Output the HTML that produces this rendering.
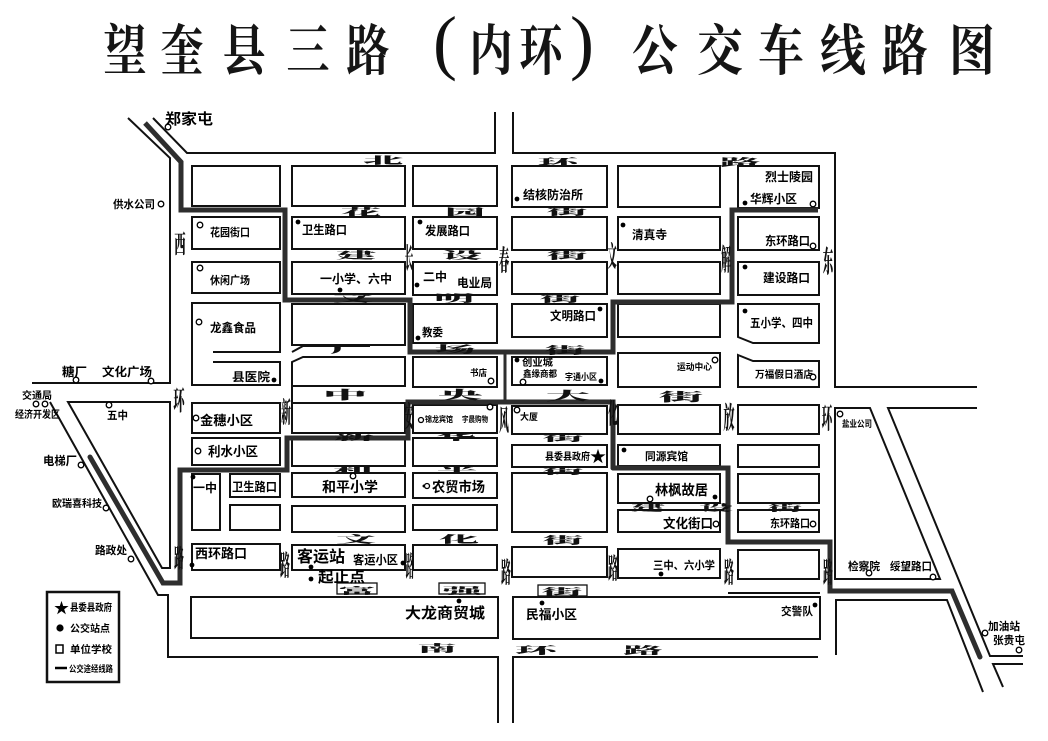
<!DOCTYPE html>
<html><head><meta charset="utf-8">
<style>
html,body{margin:0;padding:0;background:#fff;}
svg{display:block;}
.l{font-family:"Liberation Sans","Noto Sans CJK SC",sans-serif;font-weight:bold;fill:#000;}
.c{font-family:"Noto Serif CJK SC","Noto Sans CJK SC",serif;font-weight:900;fill:#111;}
.t{font-family:"Noto Serif CJK SC","Noto Sans CJK SC",serif;font-weight:700;fill:#151515;}
.p{font-family:"Liberation Serif",serif;fill:#111;}
</style></head><body>
<svg width="1048" height="741" viewBox="0 0 1048 741" xmlns="http://www.w3.org/2000/svg">
<rect x="0" y="0" width="1048" height="741" fill="#fff"/>

<!-- Title -->
<g class="t" font-size="54" text-anchor="middle">
<text transform="translate(125,70) scale(0.8,1.02)">望</text>
<text transform="translate(182,70) scale(0.8,1.02)">奎</text>
<text transform="translate(244,70) scale(0.8,1.02)">县</text>
<text transform="translate(308,70) scale(0.8,1.02)">三</text>
<text transform="translate(368,70) scale(0.8,1.02)">路</text>
<text transform="translate(491,70) scale(0.8,1.02)">内</text>
<text transform="translate(541,70) scale(0.8,1.02)">环</text>
<text transform="translate(655,70) scale(0.85,1.02)">公</text>
<text transform="translate(720,70) scale(0.85,1.02)">交</text>
<text transform="translate(781,70) scale(0.85,1.02)">车</text>
<text transform="translate(843,70) scale(0.85,1.02)">线</text>
<text transform="translate(905,70) scale(0.85,1.02)">路</text>
<text transform="translate(972,70) scale(0.85,1.02)">图</text>
</g>
<g class="p" font-size="72" text-anchor="middle">
<text x="445" y="66">(</text>
<text x="582" y="66">)</text>
</g>

<!-- Roads outline -->
<g stroke="#111" stroke-width="2" fill="none">
<polyline points="128,118 170,158 170,383 32,383"/>
<polyline points="153,118 187,153 495,153 495,112"/>
<polyline points="513,112 513,153 835,153 835,387 977,387"/>
<polygon points="68,402 170,402 170,568 162,568"/>
<polyline points="50,402 158,595 168,595 168,657 498,657 498,723"/>
<polyline points="513,723 513,657 818,657"/>
<polygon points="835,408 870,408 940,579 835,579"/>
<polyline points="977,408 888,408 990,656 1023,656"/>
<polyline points="836,655 836,600 947,600 983,692"/>
<polyline points="1023,664 993,664 1003,687"/>
<line x1="728" y1="593" x2="820" y2="593"/>

<!-- col1 -->
<rect x="192" y="166" width="88" height="40"/>
<rect x="192" y="217" width="88" height="32"/>
<rect x="192" y="262" width="88" height="31"/>
<path d="M213,352 L280,352 L280,303 L192,303 L192,385 L280,385 L280,362 L213,362"/>
<rect x="192" y="403" width="88" height="30"/>
<rect x="192" y="438" width="88" height="27"/>
<rect x="192" y="474" width="28" height="56"/>
<rect x="230" y="474" width="50" height="23"/>
<rect x="230" y="505" width="50" height="25"/>
<rect x="192" y="544" width="88" height="26"/>
<!-- col2 -->
<rect x="292" y="166" width="113" height="40"/>
<rect x="292" y="217" width="113" height="32"/>
<rect x="292" y="262" width="113" height="32"/>
<rect x="292" y="304" width="113" height="41"/>
<path d="M292,362 L303,357 L405,357 L405,386 L292,386 Z"/>
<line x1="292" y1="386" x2="292" y2="403"/>
<path d="M292,352 L303,346 L370,346"/>
<rect x="292" y="403" width="113" height="30"/>
<rect x="292" y="439" width="113" height="27"/>
<rect x="292" y="473" width="113" height="24"/>
<rect x="292" y="506" width="113" height="26"/>
<rect x="292" y="545" width="113" height="25"/>
<!-- col3 -->
<rect x="413" y="166" width="84" height="40"/>
<rect x="413" y="217" width="84" height="32"/>
<rect x="413" y="262" width="84" height="33"/>
<rect x="413" y="304" width="84" height="39"/>
<rect x="413" y="357" width="84" height="30"/>
<rect x="413" y="405" width="84" height="28"/>
<rect x="413" y="438" width="84" height="28"/>
<rect x="413" y="473" width="84" height="25"/>
<rect x="413" y="505" width="84" height="25"/>
<rect x="413" y="545" width="84" height="25"/>
<!-- col4 -->
<rect x="512" y="166" width="95" height="41"/>
<rect x="512" y="217" width="95" height="33"/>
<rect x="512" y="262" width="95" height="32"/>
<rect x="512" y="304" width="95" height="33"/>
<rect x="512" y="357" width="95" height="28"/>
<rect x="512" y="406" width="95" height="28"/>
<rect x="512" y="445" width="95" height="22"/>
<rect x="512" y="473" width="95" height="59"/>
<rect x="512" y="547" width="95" height="30"/>
<!-- col5 -->
<rect x="618" y="166" width="102" height="41"/>
<rect x="618" y="217" width="102" height="33"/>
<rect x="618" y="262" width="102" height="32"/>
<rect x="618" y="304" width="102" height="33"/>
<rect x="618" y="353" width="102" height="34"/>
<rect x="618" y="405" width="102" height="29"/>
<rect x="618" y="445" width="102" height="21"/>
<rect x="618" y="474" width="102" height="29"/>
<rect x="618" y="510" width="102" height="22"/>
<rect x="618" y="549" width="102" height="29"/>
<!-- col6 -->
<rect x="738" y="166" width="81" height="42"/>
<rect x="738" y="217" width="81" height="33"/>
<rect x="738" y="262" width="81" height="33"/>
<path d="M738,304 L819,304 L819,343 L753,343 L738,337 Z"/>
<path d="M738,355 L753,361 L819,361 L819,387 L738,387 Z"/>
<rect x="738" y="405" width="81" height="29"/>
<rect x="738" y="445" width="81" height="22"/>
<rect x="738" y="474" width="81" height="29"/>
<rect x="738" y="510" width="81" height="22"/>
<rect x="738" y="550" width="81" height="29"/>
<!-- bottom -->
<rect x="191" y="597" width="307" height="41"/>
<rect x="513" y="597" width="307" height="42"/>
<!-- plaques -->
<rect x="337" y="583" width="40" height="11" stroke-width="1.3"/>
<rect x="439" y="583" width="46" height="11" stroke-width="1.3"/>
<rect x="538" y="585" width="49" height="11" stroke-width="1.3"/>
</g>

<!-- Route -->
<g stroke="#2e2e2e" stroke-width="5" fill="none" stroke-linejoin="miter">
<polyline points="145,123 181,162 181,210 285,210 285,300 410,300 410,352 613,352 613,302 732,302 732,210 818,210"/>
<polyline points="613,468 613,402 408,402 408,438 287,438 287,470 180,470 180,583 163,583 90,457" stroke-linecap="round"/>
<polyline points="613,468 728,468 728,542 830,542 830,591 952,591 980,657" stroke-linecap="round"/>
<line x1="505" y1="352" x2="505" y2="402" stroke-width="3"/>
</g>

<!-- Horizontal road names (brush) -->
<g class="c" font-size="13" text-anchor="middle">
<text transform="translate(383,164) scale(3.1,0.8)">北</text>
<text transform="translate(558,166) scale(3.1,0.8)">环</text>
<text transform="translate(740,166) scale(3.1,0.8)">路</text>
<text transform="translate(361,216) scale(3.1,0.8)">花</text>
<text transform="translate(465,216) scale(3.1,0.8)">园</text>
<text transform="translate(567,215) scale(3.1,0.8)">街</text>
<text transform="translate(356,259) scale(3.1,0.8)">建</text>
<text transform="translate(462,259) scale(3.1,0.8)">设</text>
<text transform="translate(567,259) scale(3.1,0.8)">街</text>
<text transform="translate(353,302) scale(3.1,0.8)">文</text>
<text transform="translate(454,302) scale(3.1,0.8)">明</text>
<text transform="translate(560,302) scale(3.1,0.8)">街</text>
<text transform="translate(350,353) scale(3.1,0.8)">广</text>
<text transform="translate(455,353) scale(3.1,0.8)">场</text>
<text transform="translate(565,354) scale(3.1,0.8)">街</text>
<text transform="translate(345,399) scale(3.4,0.9)">中</text>
<text transform="translate(460,399) scale(3.4,0.9)">央</text>
<text transform="translate(568,400) scale(3.4,0.9)">大</text>
<text transform="translate(681,401) scale(3.4,0.9)">街</text>
<text transform="translate(354,440) scale(3.1,0.7)">新</text>
<text transform="translate(456,440) scale(3.1,0.7)">华</text>
<text transform="translate(563,441) scale(3.1,0.7)">街</text>
<text transform="translate(353,473) scale(3.1,0.7)">和</text>
<text transform="translate(457,473) scale(3.1,0.7)">平</text>
<text transform="translate(563,474) scale(3.1,0.7)">街</text>
<text transform="translate(648,511) scale(2.6,0.7)">建</text>
<text transform="translate(716,511) scale(2.6,0.7)">设</text>
<text transform="translate(785,511) scale(2.6,0.7)">街</text>
<text transform="translate(356,543) scale(3.1,0.8)">文</text>
<text transform="translate(459,543) scale(3.1,0.8)">化</text>
<text transform="translate(563,544) scale(3.1,0.8)">街</text>
<text transform="translate(357,594) scale(2.8,0.7)">富</text>
<text transform="translate(462,594) scale(3.1,0.7)">强</text>
<text transform="translate(562,595) scale(3.1,0.7)">街</text>
<text transform="translate(437,652) scale(3.0,0.8)">南</text>
<text transform="translate(536,654) scale(3.2,0.8)">环</text>
<text transform="translate(643,654) scale(3.0,0.8)">路</text>
</g>

<!-- Vertical road names (brush) -->
<g class="c" font-size="14" text-anchor="middle">
<text transform="translate(180,253) scale(0.8,1.8)">西</text>
<text transform="translate(179,410) scale(0.8,1.9)">环</text>
<text transform="translate(179,567) scale(0.7,1.8)">路</text>
<text transform="translate(286,422) scale(0.7,2)">新</text>
<text transform="translate(285,575) scale(0.7,2)">路</text>
<text transform="translate(409,268) scale(0.6,2)">长</text>
<text transform="translate(409,426) scale(0.6,2)">安</text>
<text transform="translate(410,576) scale(0.6,2)">路</text>
<text transform="translate(504,270) scale(0.75,2)">春</text>
<text transform="translate(504,430) scale(0.7,2)">风</text>
<text transform="translate(506,582) scale(0.7,2)">路</text>
<text transform="translate(612,266) scale(0.7,2)">文</text>
<text transform="translate(613,423) scale(0.7,2)">化</text>
<text transform="translate(613,578) scale(0.7,2)">路</text>
<text transform="translate(726,270) scale(0.7,2.1)">解</text>
<text transform="translate(729,428) scale(0.8,2.1)">放</text>
<text transform="translate(729,582) scale(0.7,2)">路</text>
<text transform="translate(828,272) scale(0.75,2.1)">东</text>
<text transform="translate(827,428) scale(0.75,2)">环</text>
<text transform="translate(828,582) scale(0.7,2)">路</text>
</g>

<!-- Labels -->
<g class="l">
<text x="165" y="124" font-size="15" textLength="48" lengthAdjust="spacingAndGlyphs">郑家屯</text>
<text x="113" y="208" font-size="11" textLength="42" lengthAdjust="spacingAndGlyphs">供水公司</text>
<text x="210" y="236" font-size="11" textLength="40" lengthAdjust="spacingAndGlyphs">花园街口</text>
<text x="302" y="234" font-size="12" textLength="45" lengthAdjust="spacingAndGlyphs">卫生路口</text>
<text x="425" y="235" font-size="12" textLength="45" lengthAdjust="spacingAndGlyphs">发展路口</text>
<text x="210" y="284" font-size="11" textLength="40" lengthAdjust="spacingAndGlyphs">休闲广场</text>
<text x="320" y="283" font-size="12" textLength="72" lengthAdjust="spacingAndGlyphs">一小学、六中</text>
<text x="423" y="281" font-size="12" textLength="24" lengthAdjust="spacingAndGlyphs">二中</text>
<text x="457" y="287" font-size="12" textLength="35" lengthAdjust="spacingAndGlyphs">电业局</text>
<text x="210" y="332" font-size="12" textLength="46" lengthAdjust="spacingAndGlyphs">龙鑫食品</text>
<text x="422" y="336" font-size="11" textLength="21" lengthAdjust="spacingAndGlyphs">教委</text>
<text x="523" y="199" font-size="12" textLength="60" lengthAdjust="spacingAndGlyphs">结核防治所</text>
<text x="632" y="239" font-size="12" textLength="35" lengthAdjust="spacingAndGlyphs">清真寺</text>
<text x="765" y="181" font-size="12" textLength="48" lengthAdjust="spacingAndGlyphs">烈士陵园</text>
<text x="750" y="203" font-size="12" textLength="47" lengthAdjust="spacingAndGlyphs">华辉小区</text>
<text x="765" y="245" font-size="12" textLength="45" lengthAdjust="spacingAndGlyphs">东环路口</text>
<text x="763" y="282" font-size="12" textLength="47" lengthAdjust="spacingAndGlyphs">建设路口</text>
<text x="550" y="320" font-size="12" textLength="46" lengthAdjust="spacingAndGlyphs">文明路口</text>
<text x="750" y="327" font-size="12" textLength="63" lengthAdjust="spacingAndGlyphs">五小学、四中</text>
<text x="232" y="381" font-size="12" textLength="38" lengthAdjust="spacingAndGlyphs">县医院</text>
<text x="522" y="366" font-size="10" textLength="31" lengthAdjust="spacingAndGlyphs">创业城</text>
<text x="523" y="377" font-size="9" textLength="34" lengthAdjust="spacingAndGlyphs">鑫缘商都</text>
<text x="565" y="380" font-size="9" textLength="32" lengthAdjust="spacingAndGlyphs">宇通小区</text>
<text x="470" y="376" font-size="9" textLength="17" lengthAdjust="spacingAndGlyphs">书店</text>
<text x="677" y="370" font-size="9" textLength="35" lengthAdjust="spacingAndGlyphs">运动中心</text>
<text x="755" y="378" font-size="10" textLength="58" lengthAdjust="spacingAndGlyphs">万福假日酒店</text>
<text x="200" y="425" font-size="13" textLength="53" lengthAdjust="spacingAndGlyphs">金穗小区</text>
<text x="208" y="456" font-size="13" textLength="50" lengthAdjust="spacingAndGlyphs">利水小区</text>
<text x="193" y="492" font-size="12" textLength="24" lengthAdjust="spacingAndGlyphs">一中</text>
<text x="232" y="491" font-size="12" textLength="45" lengthAdjust="spacingAndGlyphs">卫生路口</text>
<text x="195" y="558" font-size="13" textLength="52" lengthAdjust="spacingAndGlyphs">西环路口</text>
<text x="62" y="376" font-size="12" textLength="25" lengthAdjust="spacingAndGlyphs">糖厂</text>
<text x="102" y="376" font-size="12" textLength="50" lengthAdjust="spacingAndGlyphs">文化广场</text>
<text x="22" y="399" font-size="10" textLength="30" lengthAdjust="spacingAndGlyphs">交通局</text>
<text x="15" y="418" font-size="10" textLength="45" lengthAdjust="spacingAndGlyphs">经济开发区</text>
<text x="107" y="419" font-size="11" textLength="21" lengthAdjust="spacingAndGlyphs">五中</text>
<text x="43" y="465" font-size="12" textLength="34" lengthAdjust="spacingAndGlyphs">电梯厂</text>
<text x="52" y="507" font-size="10" textLength="50" lengthAdjust="spacingAndGlyphs">欧瑞喜科技</text>
<text x="95" y="554" font-size="11" textLength="32" lengthAdjust="spacingAndGlyphs">路政处</text>
<text x="425" y="422" font-size="8" textLength="28" lengthAdjust="spacingAndGlyphs">锦龙宾馆</text>
<text x="462" y="422" font-size="8" textLength="26" lengthAdjust="spacingAndGlyphs">宇晨购物</text>
<text x="520" y="420" font-size="9" textLength="18" lengthAdjust="spacingAndGlyphs">大厦</text>
<text x="545" y="460" font-size="10" textLength="45" lengthAdjust="spacingAndGlyphs">县委县政府</text>
<text x="645" y="460" font-size="11" textLength="43" lengthAdjust="spacingAndGlyphs">同源宾馆</text>
<text x="322" y="492" font-size="14" textLength="56" lengthAdjust="spacingAndGlyphs">和平小学</text>
<text x="432" y="492" font-size="14" textLength="53" lengthAdjust="spacingAndGlyphs">农贸市场</text>
<text x="655" y="495" font-size="14" textLength="53" lengthAdjust="spacingAndGlyphs">林枫故居</text>
<text x="663" y="528" font-size="13" textLength="50" lengthAdjust="spacingAndGlyphs">文化街口</text>
<text x="770" y="527" font-size="11" textLength="40" lengthAdjust="spacingAndGlyphs">东环路口</text>
<text x="297" y="562" font-size="16" textLength="48" lengthAdjust="spacingAndGlyphs">客运站</text>
<text x="353" y="564" font-size="12" textLength="45" lengthAdjust="spacingAndGlyphs">客运小区</text>
<text x="318" y="582" font-size="15" textLength="47" lengthAdjust="spacingAndGlyphs">起止点</text>
<text x="653" y="569" font-size="11" textLength="62" lengthAdjust="spacingAndGlyphs">三中、六小学</text>
<text x="848" y="570" font-size="11" textLength="32" lengthAdjust="spacingAndGlyphs">检察院</text>
<text x="890" y="570" font-size="11" textLength="42" lengthAdjust="spacingAndGlyphs">绥望路口</text>
<text x="842" y="427" font-size="9" textLength="30" lengthAdjust="spacingAndGlyphs">盐业公司</text>
<text x="405" y="618" font-size="15" textLength="80" lengthAdjust="spacingAndGlyphs">大龙商贸城</text>
<text x="526" y="619" font-size="13" textLength="51" lengthAdjust="spacingAndGlyphs">民福小区</text>
<text x="781" y="615" font-size="11" textLength="32" lengthAdjust="spacingAndGlyphs">交警队</text>
<text x="988" y="630" font-size="11" textLength="32" lengthAdjust="spacingAndGlyphs">加油站</text>
<text x="993" y="644" font-size="11" textLength="32" lengthAdjust="spacingAndGlyphs">张贵屯</text>
<text x="590" y="462" font-size="16">★</text>
</g>

<!-- Filled stops -->
<g fill="#000">
<circle cx="298" cy="222" r="2.4"/><circle cx="420" cy="222" r="2.4"/>
<circle cx="340" cy="290" r="2.4"/><circle cx="417" cy="285" r="2.4"/>
<circle cx="418" cy="338" r="2.4"/><circle cx="517" cy="199" r="2.4"/>
<circle cx="623" cy="225" r="2.4"/><circle cx="745" cy="203" r="2.4"/>
<circle cx="745" cy="267" r="2.4"/><circle cx="600" cy="309" r="2.4"/>
<circle cx="745" cy="311" r="2.4"/><circle cx="274" cy="380" r="2.4"/>
<circle cx="517" cy="360" r="2.4"/><circle cx="601" cy="381" r="2.4"/>
<circle cx="193" cy="477" r="2.4"/><circle cx="192" cy="565" r="2.4"/>
<circle cx="624" cy="450" r="2.4"/><circle cx="715" cy="497" r="2.4"/>
<circle cx="311" cy="567" r="2.4"/><circle cx="403" cy="563" r="2.4"/>
<circle cx="311" cy="579" r="2.4"/><circle cx="661" cy="574" r="2.4"/>
<circle cx="459" cy="601" r="2.4"/><circle cx="542" cy="603" r="2.4"/>
<circle cx="815" cy="605" r="2.4"/><circle cx="424" cy="486" r="1.5"/>
</g>
<!-- Open circles -->
<g fill="#fff" stroke="#000" stroke-width="1.3">
<circle cx="168" cy="127" r="2.8"/><circle cx="161" cy="204" r="2.8"/>
<circle cx="200" cy="225" r="2.8"/><circle cx="200" cy="268" r="2.8"/>
<circle cx="199" cy="322" r="2.8"/><circle cx="813" cy="204" r="2.8"/>
<circle cx="813" cy="246" r="2.8"/><circle cx="523" cy="382" r="2.8"/>
<circle cx="491" cy="381" r="2.8"/><circle cx="715" cy="360" r="2.8"/>
<circle cx="813" cy="377" r="2.8"/><circle cx="196" cy="418" r="2.8"/>
<circle cx="198" cy="451" r="2.8"/><circle cx="76" cy="380" r="2.8"/>
<circle cx="151" cy="381" r="2.8"/><circle cx="36" cy="404" r="2.8"/>
<circle cx="45" cy="404" r="2.8"/><circle cx="109" cy="405" r="2.8"/>
<circle cx="81" cy="465" r="2.8"/><circle cx="106" cy="508" r="2.8"/>
<circle cx="131" cy="559" r="2.8"/><circle cx="421" cy="420" r="2.5"/>
<circle cx="490" cy="407" r="2.8"/><circle cx="517" cy="410" r="2.8"/>
<circle cx="353" cy="476" r="2.8"/><circle cx="427" cy="486" r="2.5"/>
<circle cx="650" cy="499" r="2.8"/><circle cx="716" cy="524" r="2.8"/>
<circle cx="813" cy="524" r="2.8"/><circle cx="869" cy="573" r="2.8"/>
<circle cx="933" cy="577" r="2.8"/><circle cx="840" cy="414" r="2.8"/>
<circle cx="985" cy="633" r="2.8"/><circle cx="1019" cy="650" r="2.8"/>
</g>

<!-- Legend -->
<rect x="47" y="592" width="72" height="90" fill="#fff" stroke="#111" stroke-width="2.5"/>
<g class="l">
<text x="54" y="613" font-size="15">★</text>
<text x="70" y="611" font-size="10" textLength="42" lengthAdjust="spacingAndGlyphs">县委县政府</text>
<text x="70" y="632" font-size="10" textLength="40" lengthAdjust="spacingAndGlyphs">公交站点</text>
<text x="70" y="653" font-size="10" textLength="42" lengthAdjust="spacingAndGlyphs">单位学校</text>
<text x="69" y="672" font-size="9" textLength="44" lengthAdjust="spacingAndGlyphs">公交途经线路</text>
</g>
<circle cx="60" cy="628" r="3.6" fill="#000"/>
<rect x="56" y="645" width="7" height="8" fill="#fff" stroke="#000" stroke-width="1.5"/>
<line x1="55" y1="668" x2="67" y2="668" stroke="#000" stroke-width="2.5"/>
</svg>
</body></html>
